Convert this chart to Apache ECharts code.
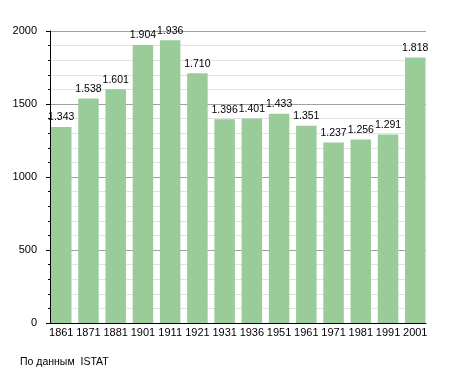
<!DOCTYPE html>
<html><head><meta charset="utf-8">
<script src="https://cdn.jsdelivr.net/npm/echarts@6/dist/echarts.min.js"></script>
<style>html,body{margin:0;padding:0;background:#fff}#c{width:455px;height:373px}</style>
</head><body><div id="c"></div>
<script>
const years = ['1861','1871','1881','1901','1911','1921','1931','1936','1951','1961','1971','1981','1991','2001'];
const population = [1343,1538,1601,1904,1936,1710,1396,1401,1433,1351,1237,1256,1291,1818];
const yTicks = [0,500,1000,1500,2000];
const sourceNote = 'По данным  ISTAT';

const fmt = v => String(v).replace(/\B(?=(\d{3})+(?!\d))/g, '.');
const font = 'Liberation Sans, Arial, sans-serif';
const chart = echarts.init(document.getElementById('c'), null, {renderer:'canvas'});
chart.setOption({
  animation:false,
  title:{text:sourceNote,left:20,top:357,padding:0,textStyle:{fontSize:10.5,fontWeight:'normal',color:'#000',fontFamily:font}},
  grid:{left:50,right:29,top:31,bottom:50,outerBoundsMode:'none',containLabel:false},
  xAxis:{type:'value',min:-0.413,max:13.395,
    axisLine:{show:true,onZero:false,lineStyle:{color:'#000',width:1}},
    axisTick:{show:false},splitLine:{show:false},
    axisLabel:{customValues:years.map((_,i)=>i),formatter:v=>years[Math.round(v)],color:'#000',fontSize:11,fontFamily:font,margin:4}},
  yAxis:{type:'value',min:yTicks[0],max:yTicks[yTicks.length-1],interval:500,
    axisLine:{show:true,onZero:false,lineStyle:{color:'#000',width:1}},
    axisTick:{show:true,inside:false,length:4,lineStyle:{color:'#000'}},
    minorTick:{show:true,splitNumber:5,length:2,lineStyle:{color:'#000'}},
    splitLine:{show:true,lineStyle:{color:'#a0a0a0',width:1}},
    minorSplitLine:{show:true,lineStyle:{color:'#e2e2e2',width:1}},
    axisLabel:{color:'#000',fontSize:11,fontFamily:font,margin:13,formatter:v=>String(v)}},
  series:[{type:'bar',barWidth:20.5,
    data:population.map((v,i)=>[i,v]),
    itemStyle:{color:'#99cc99'},
    label:{show:true,position:'top',distance:4,color:'#000',fontSize:10.5,fontFamily:font,
      formatter:p=>fmt(p.value[1])}}]
});
</script></body></html>
